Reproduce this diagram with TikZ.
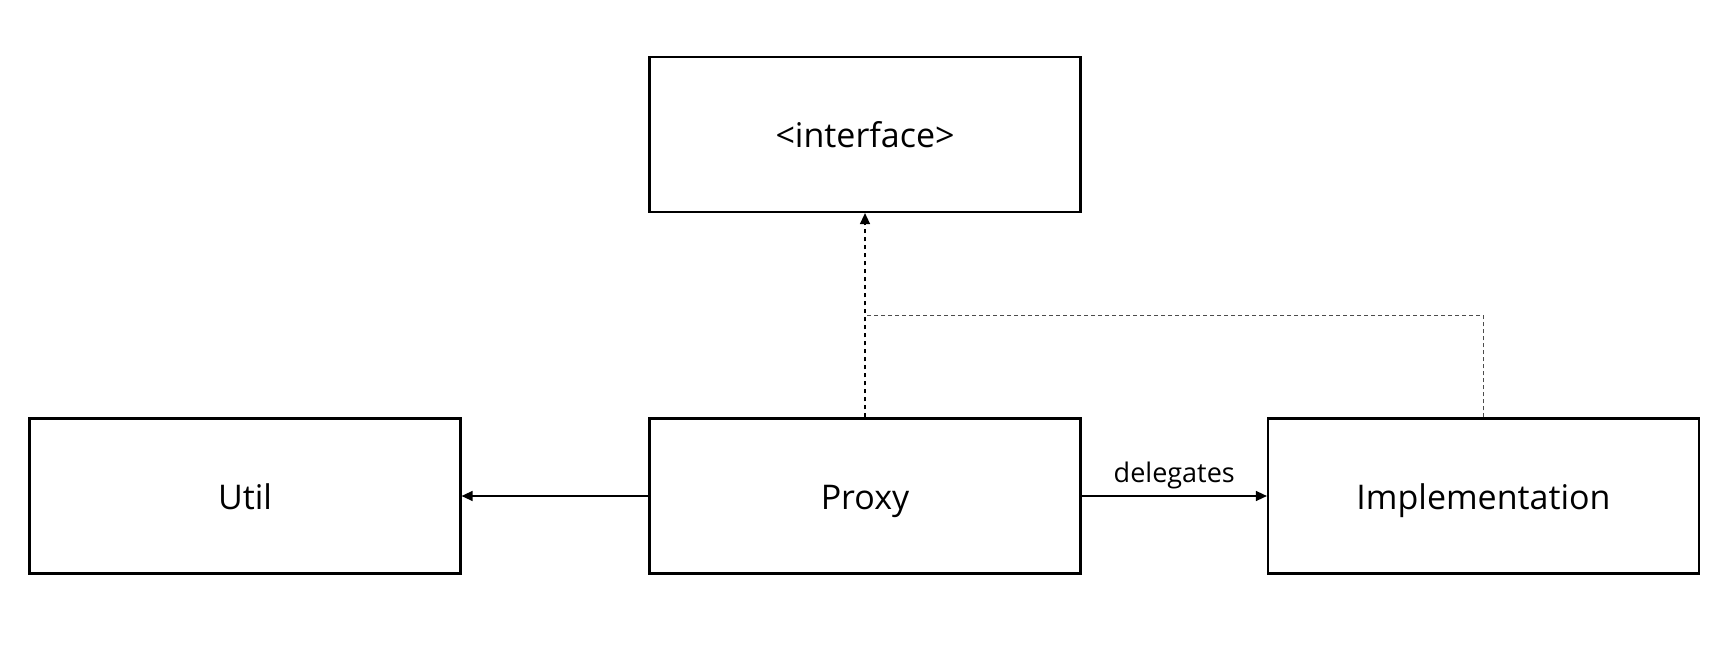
\documentclass[tikz,border=0pt]{standalone}
\usepackage{fontspec}
\setmainfont{Open Sans}
\usetikzlibrary{arrows.meta}
\begin{document}
\begin{tikzpicture}[x=1pt,y=-1pt,
  box/.style={draw=black,line width=2.2pt,minimum width=431pt,minimum height=155pt,inner sep=0pt,text height=27pt,text depth=0pt,font=\fontsize{34}{40}\selectfont},
  conn/.style={line width=1.4pt,-{Triangle[length=11pt,width=10pt]}},
  realize/.style={line width=1.4pt,dash pattern=on 4pt off 4pt,-{Triangle[length=11pt,width=10pt]}},
  realize2/.style={line width=1.4pt,draw=black!70,dash pattern=on 4pt off 3pt}]
\useasboundingbox (0,0) rectangle (1736,652);
\node[box] (iface) at (865,134.5) {<interface>};
\node[box] (util) at (245,496) {Util};
\node[box] (proxy) at (865,496) {Proxy};
\node[box] (impl) at (1483.5,496) {Implementation};
\coordinate (j) at (865,315.7);
\draw[conn] (proxy.west) -- (util.east);
\draw[conn] (proxy.east) -- node[above=4pt,font=\fontsize{27}{32}\selectfont,inner sep=2pt] (lbl) {delegates} (impl.west);
\draw[realize] (proxy.north) -- (iface.south);
\draw[realize2] (impl.north) |- (j);
\end{tikzpicture}
\end{document}
